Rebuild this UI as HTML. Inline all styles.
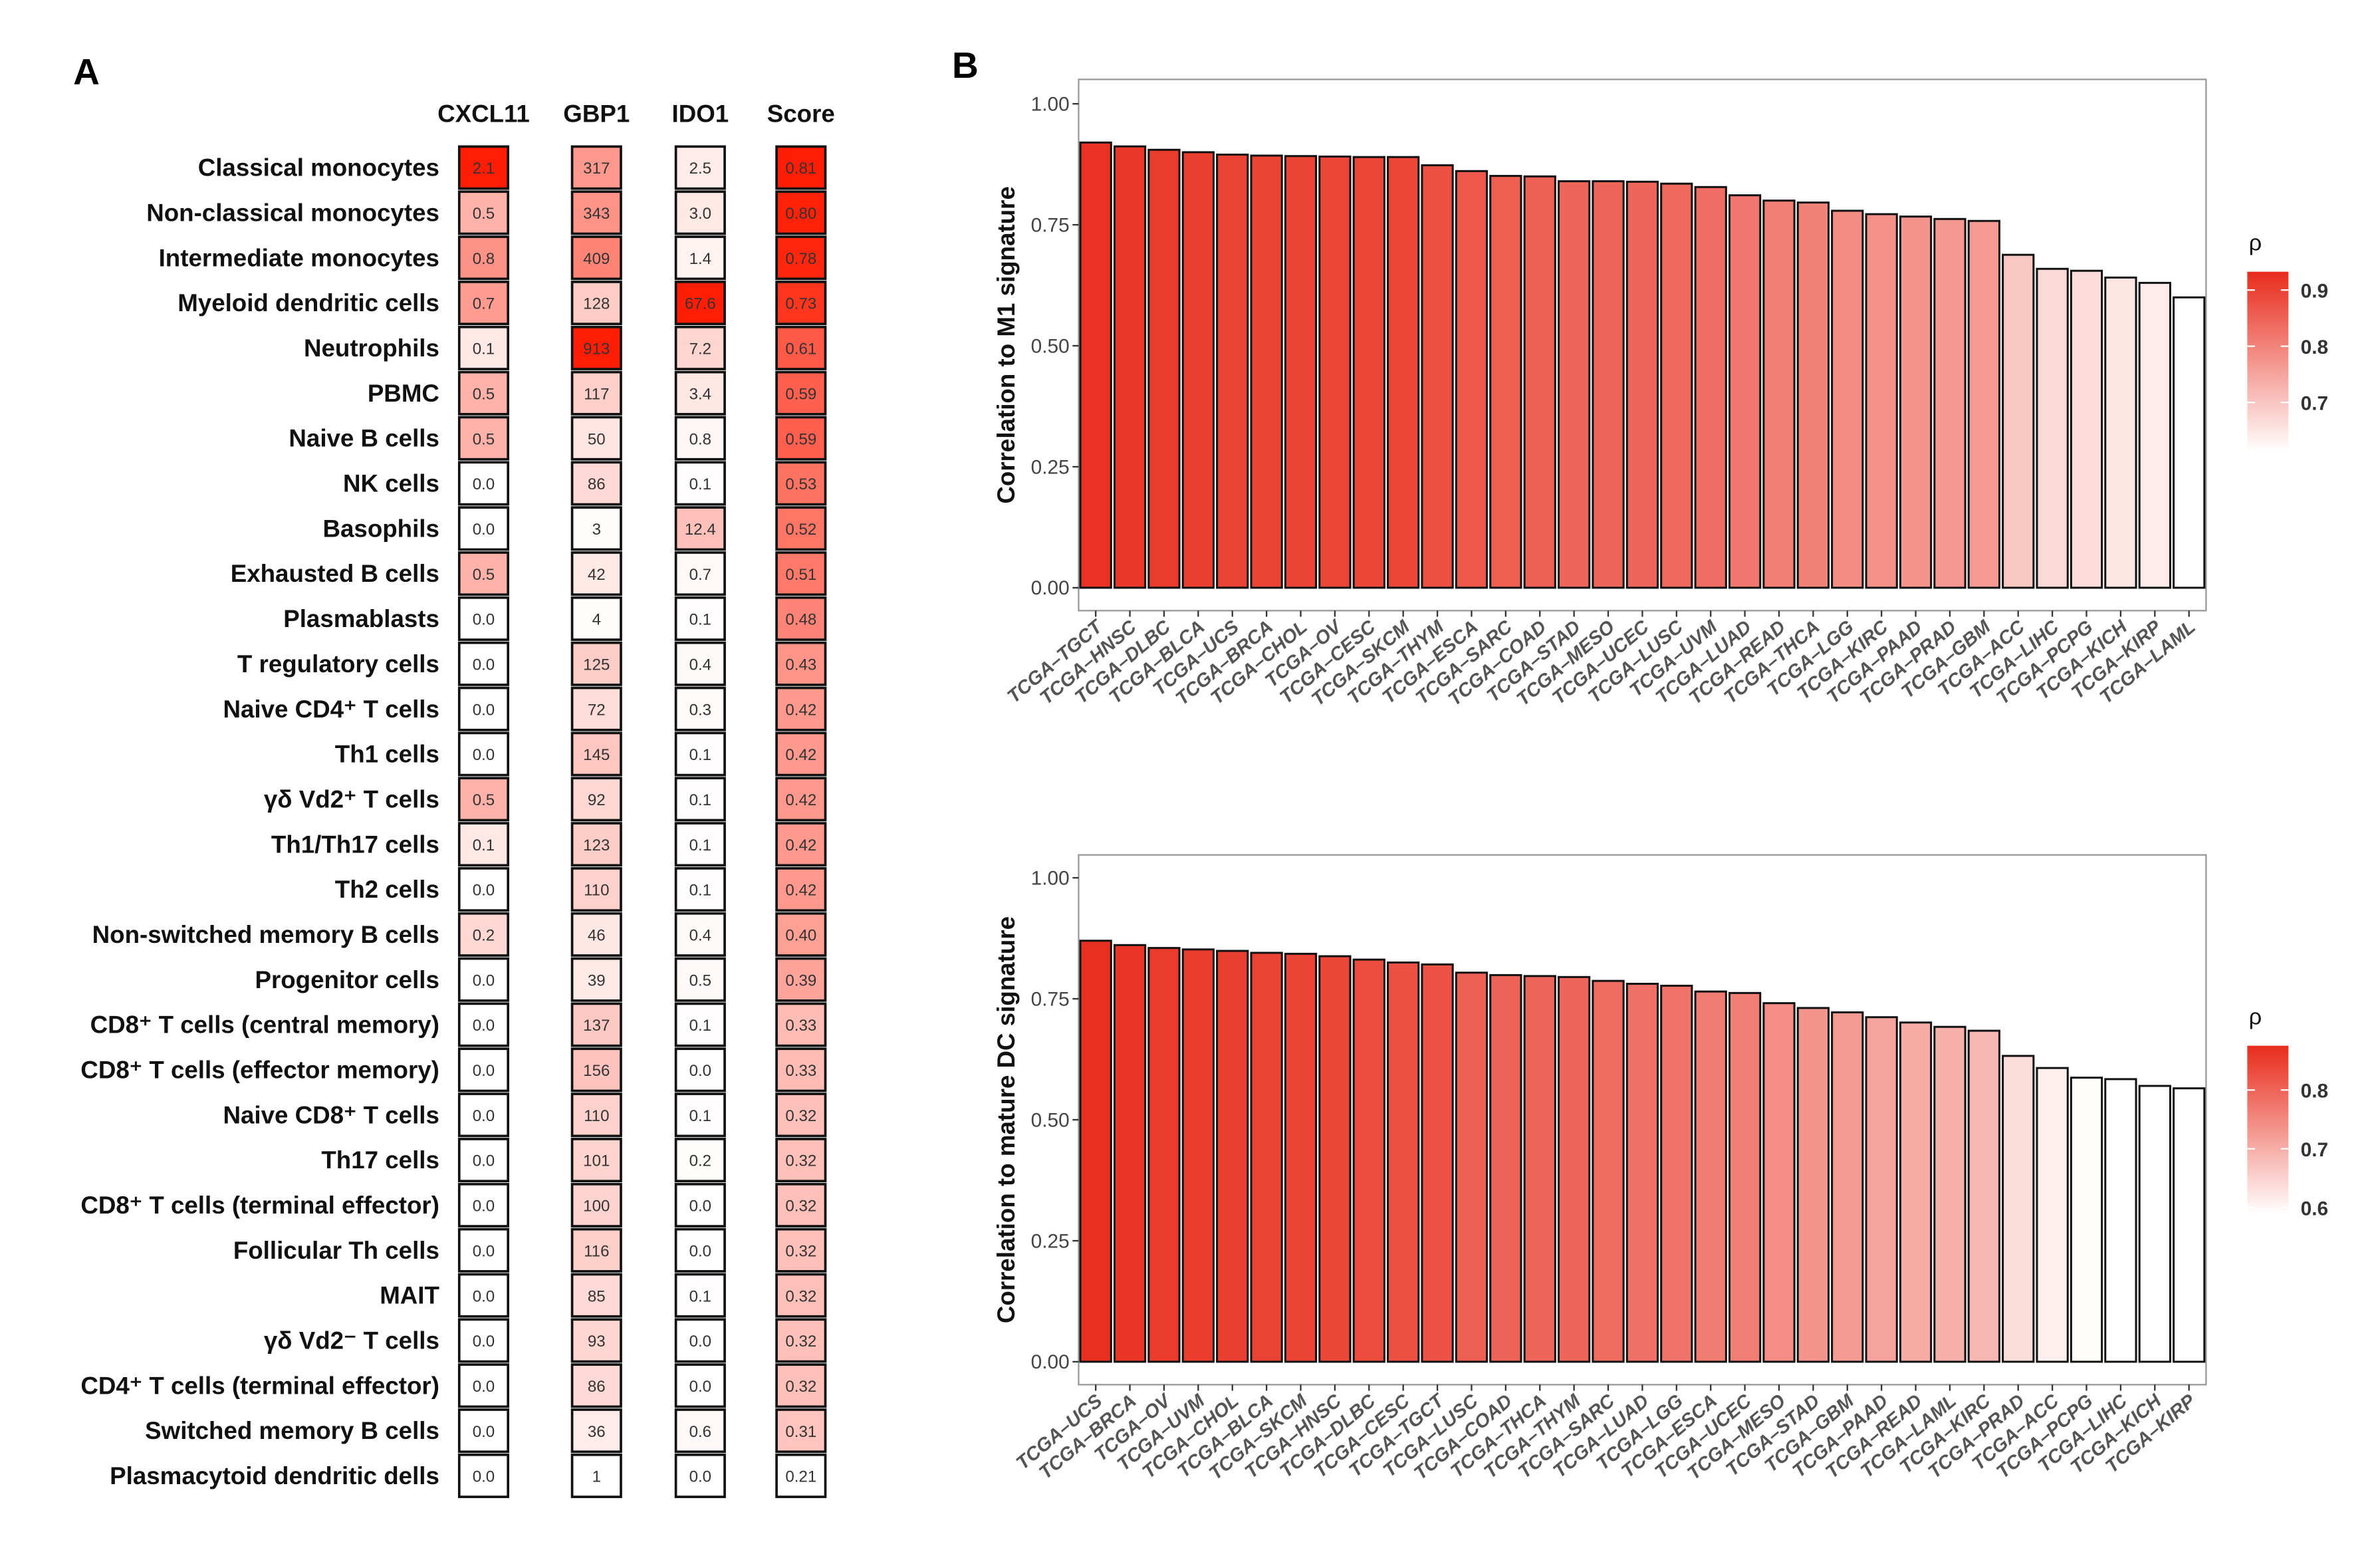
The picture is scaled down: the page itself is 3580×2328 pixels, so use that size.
<!DOCTYPE html>
<html><head><meta charset="utf-8"><style>
html,body{margin:0;padding:0;background:#fff;}
svg{display:block;}
text{font-family:"Liberation Sans",sans-serif;}
</style></head><body>
<svg id="fig" width="3580" height="2328" viewBox="0 0 1560 1014" preserveAspectRatio="none" xmlns="http://www.w3.org/2000/svg">
<rect x="0" y="0" width="1560" height="1014" fill="#fff"/>
<text x="48" y="55" font-size="24" font-weight="bold">A</text>
<text x="624" y="51" font-size="24" font-weight="bold">B</text>
<g id="heat"></g>
<g id="c1"></g>
<g id="c2"></g>
</svg>
<script>
const cellTypes=["Classical monocytes","Non-classical monocytes","Intermediate monocytes","Myeloid dendritic cells","Neutrophils","PBMC","Naive B cells","NK cells","Basophils","Exhausted B cells","Plasmablasts","T regulatory cells","Naive CD4\u207A T cells","Th1 cells","\u03B3\u03B4 Vd2\u207A T cells","Th1/Th17 cells","Th2 cells","Non-switched memory B cells","Progenitor cells","CD8\u207A T cells (central memory)","CD8\u207A T cells (effector memory)","Naive CD8\u207A T cells","Th17 cells","CD8\u207A T cells (terminal effector)","Follicular Th cells","MAIT","\u03B3\u03B4 Vd2\u207B T cells","CD4\u207A T cells (terminal effector)","Switched memory B cells","Plasmacytoid dendritic dells"];
const heatColumns=["CXCL11","GBP1","IDO1","Score"];
const cxcl11=[2.1,0.5,0.8,0.7,0.1,0.5,0.5,0.0,0.0,0.5,0.0,0.0,0.0,0.0,0.5,0.1,0.0,0.2,0.0,0.0,0.0,0.0,0.0,0.0,0.0,0.0,0.0,0.0,0.0,0.0];
const gbp1=[317,343,409,128,913,117,50,86,3,42,4,125,72,145,92,123,110,46,39,137,156,110,101,100,116,85,93,86,36,1];
const ido1=[2.5,3.0,1.4,67.6,7.2,3.4,0.8,0.1,12.4,0.7,0.1,0.4,0.3,0.1,0.1,0.1,0.1,0.4,0.5,0.1,0.0,0.1,0.2,0.0,0.0,0.1,0.0,0.0,0.6,0.0];
const score=[0.81,0.80,0.78,0.73,0.61,0.59,0.59,0.53,0.52,0.51,0.48,0.43,0.42,0.42,0.42,0.42,0.42,0.40,0.39,0.33,0.33,0.32,0.32,0.32,0.32,0.32,0.32,0.32,0.31,0.21];
const heatDecimals=[1,0,1,2];

const m1Cats=["TGCT","HNSC","DLBC","BLCA","UCS","BRCA","CHOL","OV","CESC","SKCM","THYM","ESCA","SARC","COAD","STAD","MESO","UCEC","LUSC","UVM","LUAD","READ","THCA","LGG","KIRC","PAAD","PRAD","GBM","ACC","LIHC","PCPG","KICH","KIRP","LAML"];
const m1Vals=[0.92,0.912,0.905,0.90,0.895,0.893,0.892,0.891,0.89,0.89,0.873,0.861,0.851,0.85,0.84,0.84,0.839,0.835,0.828,0.811,0.80,0.796,0.779,0.772,0.767,0.762,0.758,0.688,0.659,0.655,0.641,0.63,0.60];
const dcCats=["UCS","BRCA","OV","UVM","CHOL","BLCA","SKCM","HNSC","DLBC","CESC","TGCT","LUSC","COAD","THCA","THYM","SARC","LUAD","LGG","ESCA","UCEC","MESO","STAD","GBM","PAAD","READ","LAML","KIRC","PRAD","ACC","PCPG","LIHC","KICH","KIRP"];
const dcVals=[0.87,0.861,0.855,0.852,0.849,0.845,0.843,0.838,0.831,0.825,0.821,0.804,0.799,0.797,0.795,0.787,0.781,0.777,0.765,0.762,0.741,0.731,0.722,0.712,0.701,0.692,0.684,0.632,0.607,0.587,0.584,0.57,0.565];
const yTicks=[0,0.25,0.5,0.75,1];
const yTickLabels=["0.00","0.25","0.50","0.75","1.00"];
const m1Legend=[0.7,0.8,0.9];
const dcLegend=[0.6,0.7,0.8];

const NS="http://www.w3.org/2000/svg";
function mk(tag,attrs,parent,txt){const e=document.createElementNS(NS,tag);for(const k in attrs)e.setAttribute(k,attrs[k]);if(txt!==undefined)e.textContent=txt;parent.appendChild(e);return e;}
function mix(t,hi){t=Math.max(0,Math.min(1,t));return `rgb(${Math.round(255+(hi[0]-255)*t)},${Math.round(255+(hi[1]-255)*t)},${Math.round(255+(hi[2]-255)*t)})`;}

// Heatmap
const heat=document.getElementById('heat');
const colX=[301,375,443,509], cellW=32, top0=95, cellH=29.55;
const cols=[cxcl11,gbp1,ido1,score];
const rowY=i=>top0+i*cellH;
cellTypes.forEach((n,i)=>{
  const t=mk('text',{x:288,y:rowY(i)+cellH/2+5.5,'font-size':16,'font-weight':'bold','text-anchor':'end',fill:'#111'},heat,n);
  
  
});
heatColumns.forEach((c,j)=>{
  const t=mk('text',{x:colX[j]+cellW/2,y:80,'font-size':16,'font-weight':'bold','text-anchor':'middle',fill:'#111'},heat,c);
  
  
  const vals=cols[j];const mx=Math.max(...vals),mn=Math.min(...vals);
  vals.forEach((v,i)=>{
    const tt=(v-mn)/(mx-mn);
    const r=mk('rect',{x:colX[j],y:rowY(i)+1,width:cellW,height:cellH-2,fill:mix(Math.pow(tt,0.75),[255,30,5]),stroke:'#111','stroke-width':1.6},heat);
    
    
    const l=mk('text',{x:colX[j]+cellW/2,y:rowY(i)+cellH/2+4,'font-size':10.5,'text-anchor':'middle',fill:'#333'},heat,v.toFixed(heatDecimals[j]));
    
    
  });
});

function barChart(g,cats,vals,cfg,legendVals,ytitle){
  const y=v=>cfg.y0-(cfg.y0-cfg.y1)*v;
  const step=(cfg.right-cfg.left)/cats.length;
  const x=i=>cfg.left+step*(i+0.5);
  const fr=mk('rect',{x:cfg.left,y:cfg.top,width:cfg.right-cfg.left,height:cfg.bottom-cfg.top,fill:'#fff',stroke:'#999','stroke-width':1},g);
  
  
  yTicks.forEach((v,k)=>{
    mk('line',{x1:cfg.left-4,x2:cfg.left,y1:y(v),y2:y(v),stroke:'#333'},g);
    const t=mk('text',{x:cfg.left-6,y:y(v)+4.5,'font-size':13,'text-anchor':'end',fill:'#444'},g,yTickLabels[k]);
    
    
  });
  const yt=mk('text',{transform:`translate(665,${(cfg.top+cfg.bottom)/2}) rotate(-90)`,'font-size':16,'font-weight':'bold','text-anchor':'middle',fill:'#111'},g,ytitle);
  
  
  const lo=cfg.lo,hi=cfg.hi;
  cats.forEach((c,i)=>{
    const v=vals[i];
    const b=mk('rect',{x:x(i)-step*0.45,y:y(v),width:step*0.9,height:y(0)-y(v),fill:mix((v-lo)/(hi-lo),[232,44,28]),stroke:'#111','stroke-width':1.3},g);
    
    
    mk('line',{x1:x(i),x2:x(i),y1:cfg.bottom,y2:cfg.bottom+4,stroke:'#333'},g);
    const t=mk('text',{transform:`translate(${x(i)+5},${cfg.bottom+12}) rotate(-40)`,'font-size':12.5,'font-style':'italic','font-weight':'bold','text-anchor':'end',fill:'#555'},g,'TCGA\u2013'+c);
    
    
  });
  // legend
  const gid='gr'+cfg.top;
  const defs=mk('defs',{},g);const lg=mk('linearGradient',{id:gid,x1:0,y1:1,x2:0,y2:0},defs);
  mk('stop',{offset:'0','stop-color':'#fff'},lg);mk('stop',{offset:'1','stop-color':'rgb(232,44,28)'},lg);
  const ly=v=>cfg.legAnchorY+(cfg.legAnchorV-v)*cfg.legScale;
  const lr=mk('rect',{x:1473,y:cfg.legTop,width:27,height:cfg.legBot-cfg.legTop,fill:`url(#${gid})`},g);
  
  
  const rt=mk('text',{x:1474,y:cfg.legTop-14,'font-size':15,fill:'#111'},g,'\u03C1');
  
  
  legendVals.forEach(v=>{
    mk('line',{x1:1473,x2:1478,y1:ly(v),y2:ly(v),stroke:'#fff'},g);
    mk('line',{x1:1495,x2:1500,y1:ly(v),y2:ly(v),stroke:'#fff'},g);
    const t=mk('text',{x:1508,y:ly(v)+5,'font-size':13,'font-weight':'bold',fill:'#333'},g,v.toFixed(1));
    
    
  });
}
barChart(document.getElementById('c1'),m1Cats,m1Vals,{left:707,right:1446,top:52,bottom:400,y0:385,y1:68,lo:0.60,hi:0.93,legTop:178,legBot:296,legAnchorV:0.9,legAnchorY:190,legScale:368},m1Legend,'Correlation to M1 signature');
barChart(document.getElementById('c2'),dcCats,dcVals,{left:707,right:1446,top:560,bottom:907,y0:892,y1:575,lo:0.585,hi:0.875,legTop:685,legBot:795,legAnchorV:0.8,legAnchorY:714,legScale:385},dcLegend,'Correlation to mature DC signature');
</script>
</body></html>
